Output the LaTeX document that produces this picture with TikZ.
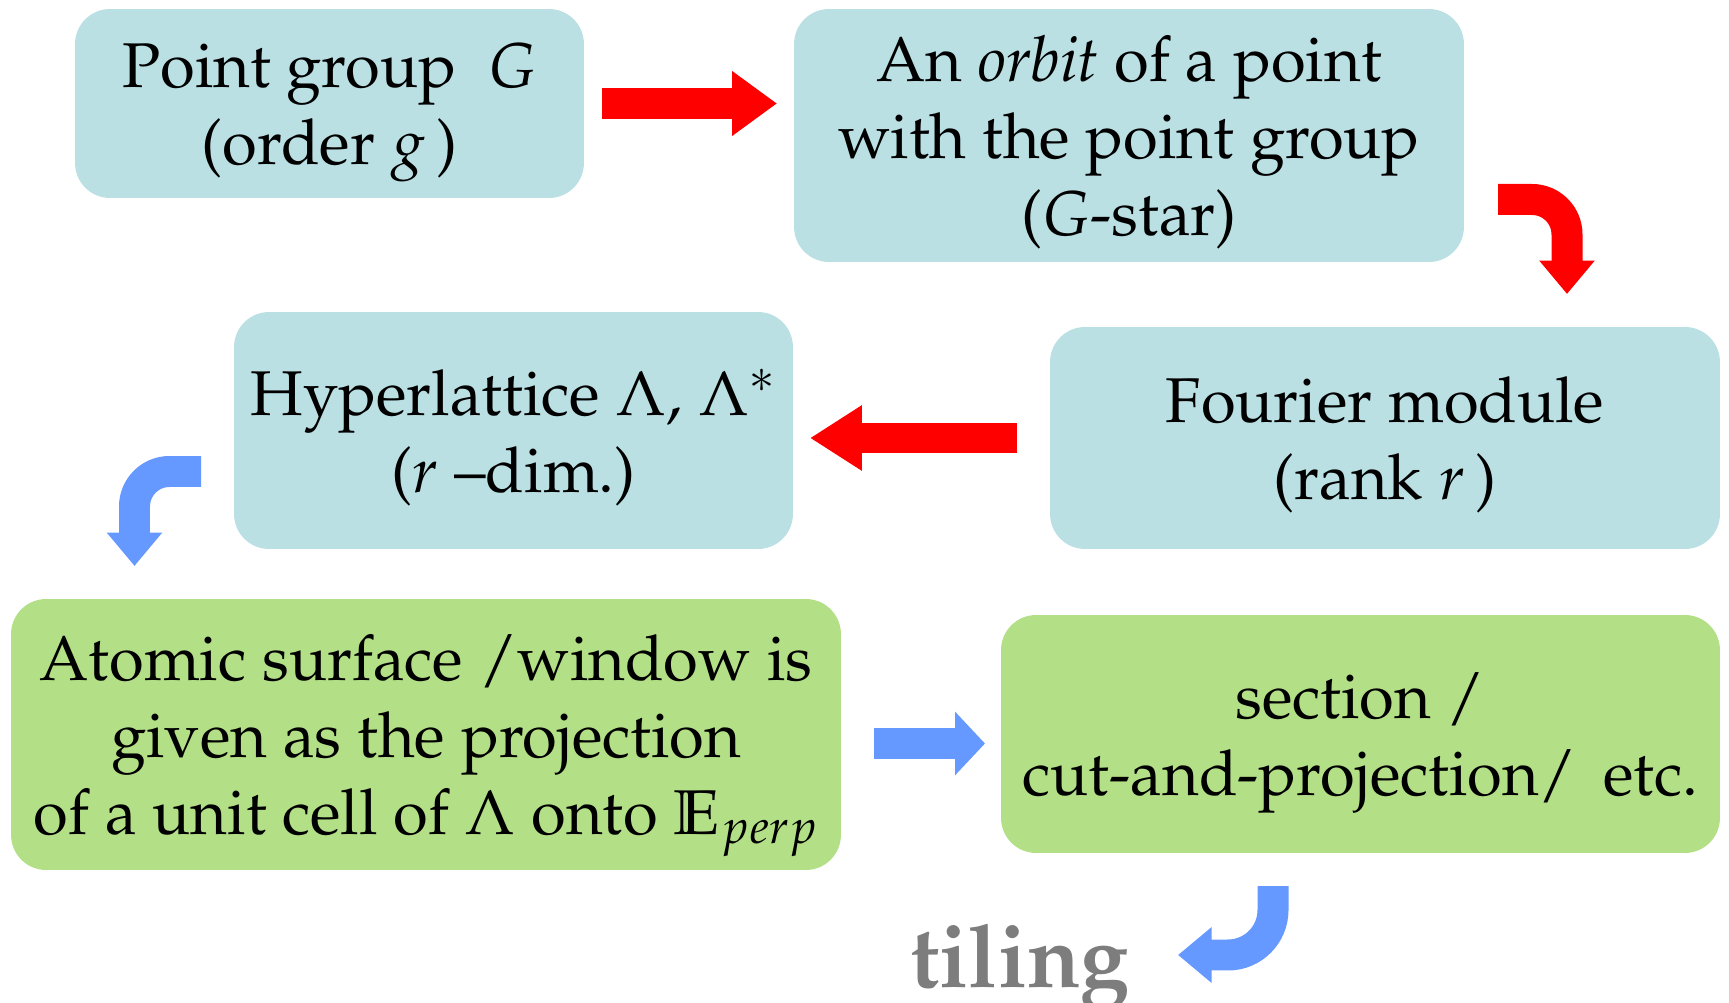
\documentclass[tikz,border=0pt]{standalone}
\usepackage[T1]{fontenc}
\usepackage{amsmath}
\usepackage{mathpazo}
\usetikzlibrary{arrows.meta}
\definecolor{boxblue}{RGB}{186,224,228}
\definecolor{boxgreen}{RGB}{179,223,135}
\definecolor{arrowred}{RGB}{255,0,0}
\definecolor{arrowblue}{RGB}{102,153,255}
\definecolor{tilegray}{RGB}{125,125,125}

\begin{document}
\begin{tikzpicture}[x=0.02cm, y=-0.02cm,
  box/.style={rectangle, rounded corners=0.7cm, align=center, inner sep=0pt, text depth=0pt, font=\fontsize{36}{43.8}\selectfont},
  bluebox/.style={box, fill=boxblue},
  greenbox/.style={box, fill=boxgreen},
  redarrow/.style={arrowred, line width=0.62cm, -{Triangle[width=1.24cm, length=0.9cm]}},
  bluearrow/.style={arrowblue, line width=0.62cm, -{Triangle[width=1.24cm, length=0.6cm]}},
  bendarrow/.style={line width=0.62cm, rounded corners=0.7cm, -{Triangle[width=1.07cm, length=0.67cm]}}]
\useasboundingbox (0,0) rectangle (1729,1003);
% boxes
\node[bluebox, minimum width=10.18cm, minimum height=3.78cm] (pg) at (329.5,103.5) {Point group\ \ $G$\\(order $g$\,)};
\node[bluebox, minimum width=13.4cm, minimum height=5.06cm] (orb) at (1129,135.5) {An \textit{orbit} of a point\\with the point group\\($G$-star)};
\node[bluebox, minimum width=13.4cm, minimum height=4.44cm] (fm) at (1385,438) {Fourier module\\(rank $r$\,)};
\node[bluebox, minimum width=11.18cm, minimum height=4.74cm] (hl) at (513.5,430.5) {Hyperlattice $\Lambda$, $\Lambda^{*}$\\($r$ --dim.)};
\node[greenbox, minimum width=16.6cm, minimum height=5.42cm] (as) at (426,734.5) {Atomic surface /window is\\given as the projection\\of a unit cell of $\Lambda$ onto $\mathbb{E}_{perp}$};
\node[greenbox, minimum width=14.38cm, minimum height=4.76cm] (sec) at (1360.5,734) {section /\\cut-and-projection/\,\ etc.};
\node[anchor=base, text=tilegray, font=\fontsize{50}{60}\selectfont\bfseries] (til) at (1020,987) {tiling};
% arrow ends
\coordinate (a1s) at (602,103.5);
\coordinate (a1e) at (777,103.5);
\coordinate (a2s) at (1498,199.5);
\coordinate (a2m) at (1567,199.5);
\coordinate (a2e) at (1567,294);
\coordinate (a3s) at (1017,438);
\coordinate (a3e) at (810,438);
\coordinate (a4s) at (201,471.5);
\coordinate (a4m) at (134.5,471.5);
\coordinate (a4e) at (134.5,566);
\coordinate (a5s) at (874,743.5);
\coordinate (a5e) at (985,743.5);
\coordinate (a6s) at (1273,886);
\coordinate (a6m) at (1273,955);
\coordinate (a6e) at (1178,955);
% arrows
\draw[redarrow] (a1s) -- (a1e);
\draw[bendarrow, arrowred] (a2s) -- (a2m) -- (a2e);
\draw[redarrow, -{Triangle[width=1.24cm, length=1.04cm]}] (a3s) -- (a3e);
\draw[bendarrow, arrowblue] (a4s) -- (a4m) -- (a4e);
\draw[bluearrow] (a5s) -- (a5e);
\draw[bendarrow, arrowblue, rounded corners=0.9cm] (a6s) -- (a6m) -- (a6e);
\end{tikzpicture}
\end{document}
